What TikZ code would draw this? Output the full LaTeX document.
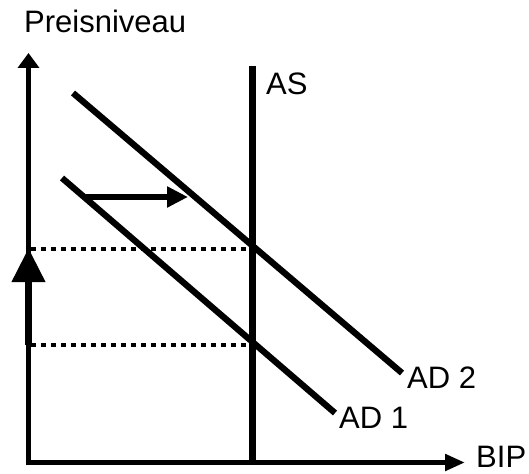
\documentclass[tikz,border=0pt]{standalone}
\usepackage{fontspec}
\setmainfont{Liberation Sans}
\usetikzlibrary{arrows.meta,positioning,calc}

\begin{document}
\begin{tikzpicture}[x=1pt,y=-1pt,
  axis/.style={line width=5.5pt,-{Triangle[length=15pt,width=21pt]}},
  xaxis/.style={line width=5.5pt,-{Triangle[length=20pt,width=16pt]}},
  curve/.style={line width=6.3pt},
  shiftarrow/.style={line width=5.5pt,-{Triangle[length=21pt,width=20pt]}},
  pricearrow/.style={line width=7pt,-{Triangle[length=34pt,width=32pt]}},
  guide/.style={line width=4pt,dash pattern=on 5pt off 5pt},
  lbl/.style={font=\fontsize{31}{36}\selectfont,inner sep=0pt,anchor=base west}
]
\useasboundingbox (0,0) rectangle (529,473);

% ===== AXES =====
\coordinate (origin) at (28.5,462.5);
\coordinate (ytop) at (28.5,53);
\coordinate (xend) at (465,462.5);
\draw[axis] ($(origin)+(0,2.75)$) coordinate (ybot) -- (ytop);
\draw[xaxis] ($(origin)+(-2.75,0)$) coordinate (xleft) -- (xend);
\node[lbl] (price) at (24,33) {Preisniveau};
\node[lbl] (bip) at (476,467) {BIP};

% ===== SUPPLY =====
\coordinate (astop) at (252,66);
\coordinate (asbot) at (252,462.5);
\draw[line width=7pt] (astop) -- (asbot);
\node[lbl] (as) at (266,95) {AS};

% ===== DEMAND =====
\coordinate (ad1a) at (62,178);
\coordinate (ad1b) at (335,413);
\coordinate (ad2a) at (73,93);
\coordinate (ad2b) at (402,373);
\draw[curve] (ad1a) -- (ad1b);
\draw[curve] (ad2a) -- (ad2b);
\node[lbl] (ad1) at (339,428) {AD 1};
\node[lbl] (ad2) at (407,388) {AD 2};

% shift of demand
\coordinate (shfrom) at (85,197);
\coordinate (shto) at (188,197);
\draw[shiftarrow] (shfrom) -- (shto);

% ===== PRICE LEVELS =====
\coordinate (p1l) at (31,345);
\coordinate (p1r) at (250,345);
\coordinate (p2l) at (31,249);
\coordinate (p2r) at (250,249);
\draw[guide] (p1l) -- (p1r);
\draw[guide] (p2l) -- (p2r);
\draw[pricearrow] (28.5,345) coordinate (pfrom) -- (28.5,248) coordinate (pto);

\end{tikzpicture}
\end{document}
